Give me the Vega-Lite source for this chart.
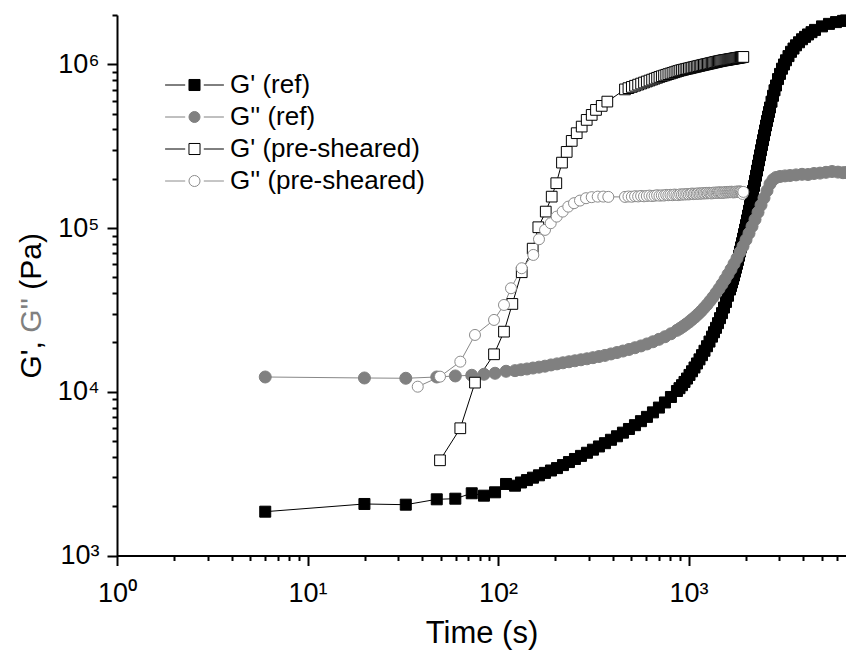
{
"$schema":"https://vega.github.io/schema/vega-lite/v6.json",
"width":729,"height":540.5,
"autosize":{"type":"none"},
"padding":{"left":117,"top":15,"right":0,"bottom":102.5},
"background":"white",
"config":{"view":{"stroke":null},"font":"Liberation Sans","axis":{"grid":false}},
"data":{"values":[
{"series":"G' (ref)","t":6.0,"G":1852},{"series":"G' (ref)","t":19.9,"G":2064},{"series":"G' (ref)","t":32.8,"G":2043},{"series":"G' (ref)","t":47.7,"G":2204},{"series":"G' (ref)","t":59.7,"G":2223},{"series":"G' (ref)","t":72.8,"G":2399},{"series":"G' (ref)","t":84.4,"G":2319},{"series":"G' (ref)","t":96.5,"G":2432},{"series":"G' (ref)","t":110.2,"G":2734},{"series":"G' (ref)","t":122.8,"G":2669},
{"series":"G' (ref)","t":132,"G":2792},{"series":"G' (ref)","t":141.9,"G":2888},{"series":"G' (ref)","t":152.6,"G":2987},{"series":"G' (ref)","t":164.1,"G":3089},{"series":"G' (ref)","t":176.4,"G":3196},{"series":"G' (ref)","t":189.7,"G":3305},{"series":"G' (ref)","t":204.0,"G":3419},{"series":"G' (ref)","t":219.3,"G":3566},{"series":"G' (ref)","t":235.8,"G":3721},{"series":"G' (ref)","t":253.5,"G":3886},{"series":"G' (ref)","t":272.6,"G":4059},{"series":"G' (ref)","t":293.1,"G":4241},{"series":"G' (ref)","t":315.1,"G":4429},{"series":"G' (ref)","t":338.8,"G":4634},{"series":"G' (ref)","t":364.3,"G":4853},{"series":"G' (ref)","t":391.7,"G":5091},{"series":"G' (ref)","t":421.2,"G":5348},{"series":"G' (ref)","t":452.8,"G":5626},{"series":"G' (ref)","t":486.9,"G":5926},{"series":"G' (ref)","t":523.5,"G":6252},{"series":"G' (ref)","t":562.9,"G":6613},{"series":"G' (ref)","t":605.2,"G":7025},{"series":"G' (ref)","t":650.7,"G":7485},{"series":"G' (ref)","t":699.6,"G":8007},{"series":"G' (ref)","t":752.3,"G":8603},{"series":"G' (ref)","t":808.8,"G":9293},{"series":"G' (ref)","t":869.7,"G":10110},
{"series":"G' (ref)","t":897.0,"G":10520},{"series":"G' (ref)","t":924.6,"G":10970},{"series":"G' (ref)","t":952.8,"G":11480},{"series":"G' (ref)","t":982.0,"G":12040},{"series":"G' (ref)","t":1012.2,"G":12670},{"series":"G' (ref)","t":1043.2,"G":13340},{"series":"G' (ref)","t":1075.2,"G":14070},{"series":"G' (ref)","t":1108.1,"G":14890},{"series":"G' (ref)","t":1142.1,"G":15770},{"series":"G' (ref)","t":1177.1,"G":16730},{"series":"G' (ref)","t":1213.2,"G":17800},{"series":"G' (ref)","t":1250.4,"G":18970},{"series":"G' (ref)","t":1288.7,"G":20260},{"series":"G' (ref)","t":1328.2,"G":21710},
{"series":"G' (ref)","t":1361,"G":23090},{"series":"G' (ref)","t":1394.3,"G":24570},{"series":"G' (ref)","t":1428.4,"G":26240},{"series":"G' (ref)","t":1463.4,"G":28160},{"series":"G' (ref)","t":1499.2,"G":30210},{"series":"G' (ref)","t":1535.9,"G":32680},{"series":"G' (ref)","t":1573.5,"G":35370},{"series":"G' (ref)","t":1612.0,"G":38590},{"series":"G' (ref)","t":1651.4,"G":42110},
{"series":"G' (ref)","t":1671.5,"G":44230},{"series":"G' (ref)","t":1691.8,"G":46460},{"series":"G' (ref)","t":1712.4,"G":48800},{"series":"G' (ref)","t":1733.3,"G":51260},{"series":"G' (ref)","t":1754.3,"G":54160},{"series":"G' (ref)","t":1775.7,"G":57210},{"series":"G' (ref)","t":1797.3,"G":60430},{"series":"G' (ref)","t":1819.1,"G":63840},{"series":"G' (ref)","t":1841.3,"G":67720},{"series":"G' (ref)","t":1863.6,"G":71840},{"series":"G' (ref)","t":1886.3,"G":76210},{"series":"G' (ref)","t":1909.2,"G":80840},{"series":"G' (ref)","t":1932.4,"G":86120},{"series":"G' (ref)","t":1955.9,"G":91790},{"series":"G' (ref)","t":1979.7,"G":97780},{"series":"G' (ref)","t":2003.8,"G":104200},{"series":"G' (ref)","t":2028.2,"G":111400},{"series":"G' (ref)","t":2052.8,"G":119200},{"series":"G' (ref)","t":2077.8,"G":127600},{"series":"G' (ref)","t":2103.0,"G":136500},{"series":"G' (ref)","t":2128.6,"G":146400},{"series":"G' (ref)","t":2154.4,"G":157100},{"series":"G' (ref)","t":2180.6,"G":168500},{"series":"G' (ref)","t":2207.1,"G":180800},{"series":"G' (ref)","t":2234.0,"G":194200},{"series":"G' (ref)","t":2261.1,"G":208700},{"series":"G' (ref)","t":2288.6,"G":224200},{"series":"G' (ref)","t":2316.4,"G":240900},{"series":"G' (ref)","t":2344.6,"G":258900},{"series":"G' (ref)","t":2373.1,"G":278000},{"series":"G' (ref)","t":2402.0,"G":298700},{"series":"G' (ref)","t":2431.2,"G":320900},{"series":"G' (ref)","t":2460.7,"G":343900},{"series":"G' (ref)","t":2490.6,"G":368300},{"series":"G' (ref)","t":2520.9,"G":394600},{"series":"G' (ref)","t":2551.6,"G":422800},{"series":"G' (ref)","t":2582.6,"G":450400},{"series":"G' (ref)","t":2614.0,"G":479900},{"series":"G' (ref)","t":2645.8,"G":511100},{"series":"G' (ref)","t":2677.9,"G":544500},
{"series":"G' (ref)","t":2727.0,"G":590900},{"series":"G' (ref)","t":2776.8,"G":642200},{"series":"G' (ref)","t":2827.6,"G":693800},{"series":"G' (ref)","t":2879.4,"G":742200},{"series":"G' (ref)","t":2949.8,"G":812200},{"series":"G' (ref)","t":3021.8,"G":873700},{"series":"G' (ref)","t":3095.6,"G":940000},{"series":"G' (ref)","t":3171.2,"G":997200},{"series":"G' (ref)","t":3248.7,"G":1057800},{"series":"G' (ref)","t":3348.3,"G":1122000},{"series":"G' (ref)","t":3451.9,"G":1192000},{"series":"G' (ref)","t":3557,"G":1248000},{"series":"G' (ref)","t":3666.3,"G":1306000},{"series":"G' (ref)","t":3802,"G":1363000},{"series":"G' (ref)","t":3943.1,"G":1422000},{"series":"G' (ref)","t":4089,"G":1471000},{"series":"G' (ref)","t":4239.8,"G":1521000},{"series":"G' (ref)","t":4423,"G":1571000},{"series":"G' (ref)","t":4613.5,"G":1622000},{"series":"G' (ref)","t":5020.2,"G":1704000},{"series":"G' (ref)","t":5462.3,"G":1765000},{"series":"G' (ref)","t":5945.0,"G":1810000},{"series":"G' (ref)","t":6470.4,"G":1841000},{"series":"G' (ref)","t":6710,"G":1852000},

{"series":"G'' (ref)","t":6.0,"G":12310},{"series":"G'' (ref)","t":19.9,"G":12140},{"series":"G'' (ref)","t":32.8,"G":12090},{"series":"G'' (ref)","t":47.7,"G":12310},{"series":"G'' (ref)","t":59.7,"G":12490},{"series":"G'' (ref)","t":72.8,"G":12610},{"series":"G'' (ref)","t":84.4,"G":12790},{"series":"G'' (ref)","t":96.5,"G":12970},{"series":"G'' (ref)","t":110.2,"G":13340},{"series":"G'' (ref)","t":122.8,"G":13460},
{"series":"G'' (ref)","t":132,"G":13630},{"series":"G'' (ref)","t":141.9,"G":13780},{"series":"G'' (ref)","t":152.6,"G":13960},{"series":"G'' (ref)","t":164.1,"G":14140},{"series":"G'' (ref)","t":176.4,"G":14330},{"series":"G'' (ref)","t":189.7,"G":14580},{"series":"G'' (ref)","t":204.0,"G":14800},{"series":"G'' (ref)","t":219.3,"G":15030},{"series":"G'' (ref)","t":235.8,"G":15250},{"series":"G'' (ref)","t":253.5,"G":15460},{"series":"G'' (ref)","t":272.6,"G":15680},{"series":"G'' (ref)","t":293.1,"G":15900},{"series":"G'' (ref)","t":315.1,"G":16150},{"series":"G'' (ref)","t":338.8,"G":16410},{"series":"G'' (ref)","t":364.3,"G":16680},{"series":"G'' (ref)","t":391.7,"G":17020},{"series":"G'' (ref)","t":421.2,"G":17360},{"series":"G'' (ref)","t":452.8,"G":17730},{"series":"G'' (ref)","t":486.9,"G":18130},{"series":"G'' (ref)","t":523.5,"G":18570},{"series":"G'' (ref)","t":562.9,"G":19050},{"series":"G'' (ref)","t":605.2,"G":19590},{"series":"G'' (ref)","t":650.7,"G":20200},{"series":"G'' (ref)","t":699.6,"G":20900},{"series":"G'' (ref)","t":752.3,"G":21680},{"series":"G'' (ref)","t":808.8,"G":22610},{"series":"G'' (ref)","t":869.7,"G":23720},
{"series":"G'' (ref)","t":902.4,"G":24360},{"series":"G'' (ref)","t":935.7,"G":25060},{"series":"G'' (ref)","t":970.2,"G":25840},{"series":"G'' (ref)","t":1006.1,"G":26650},{"series":"G'' (ref)","t":1043.2,"G":27610},{"series":"G'' (ref)","t":1081.7,"G":28600},{"series":"G'' (ref)","t":1121.6,"G":29750},{"series":"G'' (ref)","t":1163.0,"G":30980},{"series":"G'' (ref)","t":1205.9,"G":32450},{"series":"G'' (ref)","t":1250.4,"G":34000},{"series":"G'' (ref)","t":1296.5,"G":35820},{"series":"G'' (ref)","t":1344.4,"G":37790},{"series":"G'' (ref)","t":1394.3,"G":40090},{"series":"G'' (ref)","t":1445.8,"G":42520},{"series":"G'' (ref)","t":1499.2,"G":45370},{"series":"G'' (ref)","t":1554.5,"G":48450},{"series":"G'' (ref)","t":1612.0,"G":52070},{"series":"G'' (ref)","t":1671.5,"G":55940},{"series":"G'' (ref)","t":1733.3,"G":60430},{"series":"G'' (ref)","t":1797.3,"G":65380},{"series":"G'' (ref)","t":1863.6,"G":71140},{"series":"G'' (ref)","t":1932.4,"G":77400},{"series":"G'' (ref)","t":2003.8,"G":84710},{"series":"G'' (ref)","t":2077.8,"G":92810},{"series":"G'' (ref)","t":2154.4,"G":102300},{"series":"G'' (ref)","t":2234.0,"G":112700},{"series":"G'' (ref)","t":2316.4,"G":124700},{"series":"G'' (ref)","t":2402.0,"G":138000},{"series":"G'' (ref)","t":2490.6,"G":152700},{"series":"G'' (ref)","t":2582.6,"G":169000},
{"series":"G'' (ref)","t":2677.9,"G":186000},{"series":"G'' (ref)","t":2776.8,"G":197300},{"series":"G'' (ref)","t":2879.4,"G":203500},{"series":"G'' (ref)","t":3021.8,"G":206400},{"series":"G'' (ref)","t":3210.3,"G":208100},{"series":"G'' (ref)","t":3410.3,"G":209300},{"series":"G'' (ref)","t":3666.3,"G":211100},{"series":"G'' (ref)","t":3943.1,"G":212800},{"series":"G'' (ref)","t":4239.8,"G":212300},{"series":"G'' (ref)","t":4558.1,"G":215300},{"series":"G'' (ref)","t":4900.6,"G":216500},{"series":"G'' (ref)","t":5268.0,"G":218900},{"series":"G'' (ref)","t":5664.0,"G":221400},{"series":"G'' (ref)","t":6090.0,"G":219500},{"series":"G'' (ref)","t":6470.4,"G":217700},{"series":"G'' (ref)","t":6710,"G":218300},

{"series":"G' (pre-sheared)","t":49.6,"G":3815},{"series":"G' (pre-sheared)","t":63.4,"G":5985},{"series":"G' (pre-sheared)","t":75.7,"G":11370},{"series":"G' (pre-sheared)","t":95.3,"G":16940},{"series":"G' (pre-sheared)","t":107.5,"G":23290},{"series":"G' (pre-sheared)","t":118.9,"G":34380},{"series":"G' (pre-sheared)","t":133.2,"G":53710},{"series":"G' (pre-sheared)","t":152.1,"G":74830},{"series":"G' (pre-sheared)","t":162.8,"G":101100},{"series":"G' (pre-sheared)","t":178.1,"G":126000},{"series":"G' (pre-sheared)","t":191.4,"G":155500},{"series":"G' (pre-sheared)","t":202.3,"G":187800},{"series":"G' (pre-sheared)","t":216.7,"G":250900},{"series":"G' (pre-sheared)","t":229.4,"G":291700},{"series":"G' (pre-sheared)","t":243.8,"G":340500},{"series":"G' (pre-sheared)","t":258.9,"G":379500},{"series":"G' (pre-sheared)","t":275.0,"G":416400},{"series":"G' (pre-sheared)","t":292.2,"G":457500},{"series":"G' (pre-sheared)","t":310.4,"G":490800},{"series":"G' (pre-sheared)","t":326.9,"G":526600},{"series":"G' (pre-sheared)","t":350.3,"G":557100},{"series":"G' (pre-sheared)","t":374.8,"G":591700},
{"series":"G' (pre-sheared)","t":464,"G":702500},{"series":"G' (pre-sheared)","t":484,"G":715100},{"series":"G' (pre-sheared)","t":504,"G":727400},{"series":"G' (pre-sheared)","t":524,"G":739400},{"series":"G' (pre-sheared)","t":544,"G":751100},{"series":"G' (pre-sheared)","t":564,"G":762600},{"series":"G' (pre-sheared)","t":584,"G":773800},{"series":"G' (pre-sheared)","t":604,"G":784900},{"series":"G' (pre-sheared)","t":624,"G":795600},{"series":"G' (pre-sheared)","t":644,"G":806300},{"series":"G' (pre-sheared)","t":664,"G":816800},{"series":"G' (pre-sheared)","t":684,"G":826900},{"series":"G' (pre-sheared)","t":704,"G":837200},{"series":"G' (pre-sheared)","t":724,"G":845900},{"series":"G' (pre-sheared)","t":744,"G":854300},{"series":"G' (pre-sheared)","t":764,"G":862700},{"series":"G' (pre-sheared)","t":784,"G":870800},{"series":"G' (pre-sheared)","t":804,"G":878800},{"series":"G' (pre-sheared)","t":824,"G":886700},{"series":"G' (pre-sheared)","t":844,"G":894600},{"series":"G' (pre-sheared)","t":864,"G":902300},{"series":"G' (pre-sheared)","t":884,"G":909700},{"series":"G' (pre-sheared)","t":904,"G":917300},{"series":"G' (pre-sheared)","t":924,"G":922900},{"series":"G' (pre-sheared)","t":944,"G":928400},{"series":"G' (pre-sheared)","t":964,"G":933900},{"series":"G' (pre-sheared)","t":984,"G":939300},{"series":"G' (pre-sheared)","t":1004,"G":944500},{"series":"G' (pre-sheared)","t":1024,"G":949700},{"series":"G' (pre-sheared)","t":1044,"G":954800},{"series":"G' (pre-sheared)","t":1064,"G":959900},{"series":"G' (pre-sheared)","t":1084,"G":964700},{"series":"G' (pre-sheared)","t":1104,"G":969600},{"series":"G' (pre-sheared)","t":1124,"G":974600},{"series":"G' (pre-sheared)","t":1144,"G":979300},{"series":"G' (pre-sheared)","t":1164,"G":984000},{"series":"G' (pre-sheared)","t":1184,"G":988600},{"series":"G' (pre-sheared)","t":1204,"G":993100},{"series":"G' (pre-sheared)","t":1224,"G":997500},{"series":"G' (pre-sheared)","t":1244,"G":1001800},{"series":"G' (pre-sheared)","t":1264,"G":1006200},{"series":"G' (pre-sheared)","t":1284,"G":1010400},{"series":"G' (pre-sheared)","t":1304,"G":1014600},{"series":"G' (pre-sheared)","t":1324,"G":1018800},{"series":"G' (pre-sheared)","t":1344,"G":1022800},{"series":"G' (pre-sheared)","t":1364,"G":1027100},{"series":"G' (pre-sheared)","t":1384,"G":1031100},{"series":"G' (pre-sheared)","t":1404,"G":1035100},{"series":"G' (pre-sheared)","t":1424,"G":1039000},{"series":"G' (pre-sheared)","t":1444,"G":1043000},{"series":"G' (pre-sheared)","t":1464,"G":1046900},{"series":"G' (pre-sheared)","t":1484,"G":1050500},{"series":"G' (pre-sheared)","t":1504,"G":1053200},{"series":"G' (pre-sheared)","t":1524,"G":1056100},{"series":"G' (pre-sheared)","t":1544,"G":1059000},{"series":"G' (pre-sheared)","t":1564,"G":1061700},{"series":"G' (pre-sheared)","t":1584,"G":1064400},{"series":"G' (pre-sheared)","t":1604,"G":1067100},{"series":"G' (pre-sheared)","t":1624,"G":1069800},{"series":"G' (pre-sheared)","t":1644,"G":1072500},{"series":"G' (pre-sheared)","t":1664,"G":1075200},{"series":"G' (pre-sheared)","t":1684,"G":1077700},{"series":"G' (pre-sheared)","t":1704,"G":1080400},{"series":"G' (pre-sheared)","t":1724,"G":1082900},{"series":"G' (pre-sheared)","t":1744,"G":1085400},{"series":"G' (pre-sheared)","t":1764,"G":1087900},{"series":"G' (pre-sheared)","t":1784,"G":1090400},{"series":"G' (pre-sheared)","t":1804,"G":1093000},{"series":"G' (pre-sheared)","t":1824,"G":1095500},{"series":"G' (pre-sheared)","t":1844,"G":1097700},{"series":"G' (pre-sheared)","t":1864,"G":1100300},{"series":"G' (pre-sheared)","t":1884,"G":1102600},{"series":"G' (pre-sheared)","t":1904,"G":1104900},{"series":"G' (pre-sheared)","t":1924,"G":1107400},{"series":"G' (pre-sheared)","t":1940,"G":1109200},

{"series":"G'' (pre-sheared)","t":37.9,"G":10740},{"series":"G'' (pre-sheared)","t":49.6,"G":12370},{"series":"G'' (pre-sheared)","t":63.4,"G":15270},{"series":"G'' (pre-sheared)","t":75.7,"G":22230},{"series":"G'' (pre-sheared)","t":95.3,"G":27460},{"series":"G'' (pre-sheared)","t":107.5,"G":33900},{"series":"G'' (pre-sheared)","t":117.0,"G":42880},{"series":"G'' (pre-sheared)","t":133.2,"G":56820},{"series":"G'' (pre-sheared)","t":153.2,"G":68490},{"series":"G'' (pre-sheared)","t":164.1,"G":85420},{"series":"G'' (pre-sheared)","t":176.5,"G":97400},{"series":"G'' (pre-sheared)","t":189.1,"G":107000},{"series":"G'' (pre-sheared)","t":203.3,"G":117400},{"series":"G'' (pre-sheared)","t":218.6,"G":126000},{"series":"G'' (pre-sheared)","t":233.9,"G":135100},{"series":"G'' (pre-sheared)","t":250.6,"G":141800},{"series":"G'' (pre-sheared)","t":269.4,"G":147100},{"series":"G'' (pre-sheared)","t":289.7,"G":152100},{"series":"G'' (pre-sheared)","t":310.4,"G":154300},{"series":"G'' (pre-sheared)","t":333.7,"G":155500},{"series":"G'' (pre-sheared)","t":357.1,"G":155600},{"series":"G'' (pre-sheared)","t":379.3,"G":155000},
{"series":"G'' (pre-sheared)","t":464,"G":154900},{"series":"G'' (pre-sheared)","t":484,"G":155800},{"series":"G'' (pre-sheared)","t":504,"G":155300},{"series":"G'' (pre-sheared)","t":524,"G":156400},{"series":"G'' (pre-sheared)","t":544,"G":155900},{"series":"G'' (pre-sheared)","t":564,"G":157000},{"series":"G'' (pre-sheared)","t":584,"G":156200},{"series":"G'' (pre-sheared)","t":604,"G":156900},{"series":"G'' (pre-sheared)","t":624,"G":157800},{"series":"G'' (pre-sheared)","t":644,"G":156800},{"series":"G'' (pre-sheared)","t":664,"G":157500},{"series":"G'' (pre-sheared)","t":684,"G":158600},{"series":"G'' (pre-sheared)","t":704,"G":157600},{"series":"G'' (pre-sheared)","t":724,"G":158400},{"series":"G'' (pre-sheared)","t":744,"G":157900},{"series":"G'' (pre-sheared)","t":764,"G":159300},{"series":"G'' (pre-sheared)","t":784,"G":158600},{"series":"G'' (pre-sheared)","t":804,"G":159500},{"series":"G'' (pre-sheared)","t":824,"G":158700},{"series":"G'' (pre-sheared)","t":844,"G":160100},{"series":"G'' (pre-sheared)","t":864,"G":159400},{"series":"G'' (pre-sheared)","t":884,"G":158900},{"series":"G'' (pre-sheared)","t":904,"G":160600},{"series":"G'' (pre-sheared)","t":924,"G":159800},{"series":"G'' (pre-sheared)","t":944,"G":160900},{"series":"G'' (pre-sheared)","t":964,"G":160200},{"series":"G'' (pre-sheared)","t":984,"G":161300},{"series":"G'' (pre-sheared)","t":1004,"G":160400},{"series":"G'' (pre-sheared)","t":1024,"G":161500},{"series":"G'' (pre-sheared)","t":1044,"G":162400},{"series":"G'' (pre-sheared)","t":1064,"G":161100},{"series":"G'' (pre-sheared)","t":1084,"G":162200},{"series":"G'' (pre-sheared)","t":1104,"G":161600},{"series":"G'' (pre-sheared)","t":1124,"G":162900},{"series":"G'' (pre-sheared)","t":1144,"G":161800},{"series":"G'' (pre-sheared)","t":1164,"G":163000},{"series":"G'' (pre-sheared)","t":1184,"G":162300},{"series":"G'' (pre-sheared)","t":1204,"G":163500},{"series":"G'' (pre-sheared)","t":1224,"G":162600},{"series":"G'' (pre-sheared)","t":1244,"G":163900},{"series":"G'' (pre-sheared)","t":1264,"G":162800},{"series":"G'' (pre-sheared)","t":1284,"G":164100},{"series":"G'' (pre-sheared)","t":1304,"G":163200},{"series":"G'' (pre-sheared)","t":1324,"G":162700},{"series":"G'' (pre-sheared)","t":1344,"G":164300},{"series":"G'' (pre-sheared)","t":1364,"G":163600},{"series":"G'' (pre-sheared)","t":1384,"G":164800},{"series":"G'' (pre-sheared)","t":1404,"G":163700},{"series":"G'' (pre-sheared)","t":1424,"G":165000},{"series":"G'' (pre-sheared)","t":1444,"G":164100},{"series":"G'' (pre-sheared)","t":1464,"G":165400},{"series":"G'' (pre-sheared)","t":1484,"G":164300},{"series":"G'' (pre-sheared)","t":1504,"G":163800},{"series":"G'' (pre-sheared)","t":1524,"G":165200},{"series":"G'' (pre-sheared)","t":1544,"G":164600},{"series":"G'' (pre-sheared)","t":1564,"G":165900},{"series":"G'' (pre-sheared)","t":1584,"G":164800},{"series":"G'' (pre-sheared)","t":1604,"G":166100},{"series":"G'' (pre-sheared)","t":1624,"G":165200},{"series":"G'' (pre-sheared)","t":1644,"G":166400},{"series":"G'' (pre-sheared)","t":1664,"G":165500},{"series":"G'' (pre-sheared)","t":1684,"G":166700},{"series":"G'' (pre-sheared)","t":1704,"G":165600},{"series":"G'' (pre-sheared)","t":1724,"G":164900},{"series":"G'' (pre-sheared)","t":1744,"G":166300},{"series":"G'' (pre-sheared)","t":1764,"G":165700},{"series":"G'' (pre-sheared)","t":1784,"G":167000},{"series":"G'' (pre-sheared)","t":1804,"G":165900},{"series":"G'' (pre-sheared)","t":1824,"G":167200},{"series":"G'' (pre-sheared)","t":1844,"G":166100},{"series":"G'' (pre-sheared)","t":1864,"G":167400},{"series":"G'' (pre-sheared)","t":1884,"G":166400},{"series":"G'' (pre-sheared)","t":1904,"G":165000},{"series":"G'' (pre-sheared)","t":1924,"G":161500},{"series":"G'' (pre-sheared)","t":1940,"G":166200}
]},
"encoding":{
 "x":{"field":"t","type":"quantitative",
  "scale":{"type":"log","domain":[1,6710],"nice":false},
  "axis":{
   "values":[1,2,3,4,5,6,7,8,9,10,20,30,40,50,60,70,80,90,100,200,300,400,500,600,700,800,900,1000,2000,3000,4000,5000,6000],
   "labelExpr":"abs(log(datum.value)/LN10-round(log(datum.value)/LN10))<0.001 ? '10' + ['⁰','¹','²','³','⁴','⁵','⁶'][round(log(datum.value)/LN10)] : ''",
   "tickSize":{"condition":{"test":"abs(log(datum.value)/LN10-round(log(datum.value)/LN10))<0.001","value":10},"value":5},
   "tickWidth":2,"tickColor":"black","domainColor":"black","domainWidth":2,
   "labelFont":"Liberation Sans","labelFontSize":27,"labelColor":"black","labelPadding":15,
   "labelFlush":false,"labelOverlap":false,"labelBound":false,"grid":false,
   "title":"Time (s)","titleFont":"Liberation Sans","titleFontSize":31,"titleFontWeight":"normal","titleColor":"black",
   "titleX":364.5,"titleY":87,"titleAlign":"center","titleBaseline":"alphabetic","titleAngle":0
  }}
},
"layer":[
 {"transform":[{"filter":"datum.series === \"G' (ref)\" || datum.series === \"G' (pre-sheared)\""}],
  "mark":{"type":"line","strokeWidth":1,"stroke":"#000000"},
  "encoding":{
   "y":{"field":"G","type":"quantitative","scale":{"type":"log","domain":[1000,2000000],"nice":false},
    "axis":{"orient":"left",
     "values":[1000,2000,3000,4000,5000,6000,7000,8000,9000,10000,20000,30000,40000,50000,60000,70000,80000,90000,100000,200000,300000,400000,500000,600000,700000,800000,900000,1000000,2000000],
     "labelExpr":"abs(log(datum.value)/LN10-round(log(datum.value)/LN10))<0.001 ? '10' + ['⁰','¹','²','³','⁴','⁵','⁶'][round(log(datum.value)/LN10)] : ''",
     "tickSize":{"condition":{"test":"abs(log(datum.value)/LN10-round(log(datum.value)/LN10))<0.001","value":10},"value":5},
     "tickWidth":2,"tickColor":"black","domainColor":"black","domainWidth":2,
     "labelFont":"Liberation Sans","labelFontSize":27,"labelColor":"black","labelPadding":8,
     "labelOverlap":false,"labelBound":false,"grid":false,
     "title":"G',","titleFont":"Liberation Sans","titleFontSize":30,"titleFontWeight":"normal","titleColor":"black",
     "titleX":-77,"titleY":363,"titleAngle":270,"titleAlign":"left","titleBaseline":"alphabetic"}},
   "detail":{"field":"series","type":"nominal"}
  }},
 {"transform":[{"filter":"datum.series === \"G'' (ref)\" || datum.series === \"G'' (pre-sheared)\""}],
  "mark":{"type":"line","strokeWidth":1,"stroke":"#888888"},
  "encoding":{
   "y":{"field":"G","type":"quantitative","scale":{"type":"log","domain":[1000,2000000],"nice":false},
    "axis":{"orient":"left","labels":false,"ticks":false,"domain":false,"grid":false,
     "title":"(Pa)","titleFont":"Liberation Sans","titleFontSize":30,"titleFontWeight":"normal","titleColor":"black",
     "titleX":-77,"titleY":274.2,"titleAngle":270,"titleAlign":"left","titleBaseline":"alphabetic"}},
   "detail":{"field":"series","type":"nominal"}
  }},
 {"transform":[{"filter":"datum.series === \"G' (ref)\""}],
  "mark":{"type":"point","shape":"square","filled":true,"fill":"#000000","stroke":"#000000","size":121,"opacity":1,"strokeWidth":1},
  "encoding":{
   "y":{"field":"G","type":"quantitative","scale":{"type":"log","domain":[1000,2000000],"nice":false},
    "axis":{"orient":"left","labels":false,"ticks":false,"domain":false,"grid":false,
     "title":"G''","titleFont":"Liberation Sans","titleFontSize":30,"titleFontWeight":"normal","titleColor":"#808080",
     "titleX":-77,"titleY":317.3,"titleAngle":270,"titleAlign":"left","titleBaseline":"alphabetic"}}
  }},
 {"transform":[{"filter":"datum.series === \"G'' (ref)\""}],
  "mark":{"type":"point","shape":"circle","filled":true,"fill":"#808080","stroke":"#808080","size":144,"opacity":1,"strokeWidth":1},
  "encoding":{
   "y":{"field":"G","type":"quantitative","scale":{"type":"log","domain":[1000,2000000],"nice":false},"axis":null}
  }},
 {"transform":[{"filter":"datum.series === \"G' (pre-sheared)\""}],
  "mark":{"type":"point","shape":"square","filled":true,"fill":"#ffffff","stroke":"#000000","size":115,"opacity":1,"strokeWidth":1},
  "encoding":{
   "y":{"field":"G","type":"quantitative","scale":{"type":"log","domain":[1000,2000000],"nice":false},"axis":null}
  }},
 {"transform":[{"filter":"datum.series === \"G'' (pre-sheared)\""}],
  "mark":{"type":"point","shape":"circle","filled":true,"fill":"#ffffff","stroke":"#8c8c8c","size":121,"opacity":1,"strokeWidth":1},
  "encoding":{
   "y":{"field":"G","type":"quantitative","scale":{"type":"log","domain":[1000,2000000],"nice":false},"axis":null}
  }},
 {"transform":[{"filter":"datum.t < 60"}],
  "mark":{"type":"point","filled":true,"opacity":0,"strokeWidth":1},
  "encoding":{
   "y":{"field":"G","type":"quantitative","scale":{"type":"log","domain":[1000,2000000],"nice":false},"axis":null},
   "shape":{"field":"series","type":"nominal",
    "scale":{"domain":["G' (ref)","G'' (ref)","G' (pre-sheared)","G'' (pre-sheared)"],
     "range":["M-4.9,0L-1.55,0M1.55,0L4.9,0M-0.92,-0.92L0.92,-0.92L0.92,0.92L-0.92,0.92Z","M-4.9,0L-1.55,0M1.55,0L4.9,0M0.92,0L0.85,0.352L0.651,0.651L0.352,0.85L0,0.92L-0.352,0.85L-0.651,0.651L-0.85,0.352L-0.92,0L-0.85,-0.352L-0.651,-0.651L-0.352,-0.85L0,-0.92L0.352,-0.85L0.651,-0.651L0.85,-0.352Z","M-4.9,0L-1.55,0M1.55,0L4.9,0M-0.92,-0.92L0.92,-0.92L0.92,0.92L-0.92,0.92Z","M-4.9,0L-1.55,0M1.55,0L4.9,0M0.92,0L0.85,0.352L0.651,0.651L0.352,0.85L0,0.92L-0.352,0.85L-0.651,0.651L-0.85,0.352L-0.92,0L-0.85,-0.352L-0.651,-0.651L-0.352,-0.85L0,-0.92L0.352,-0.85L0.651,-0.651L0.85,-0.352Z"]},
    "legend":{"orient":"none","legendX":64.5,"legendY":57,"title":null,"padding":0,
     "labelFont":"Liberation Sans","labelFontSize":26,"labelColor":"black","labelLimit":400,"labelOffset":22.5,
     "symbolSize":144,"symbolStrokeWidth":1,"symbolOpacity":1,"rowPadding":6}},
   "fill":{"field":"series","type":"nominal",
    "scale":{"domain":["G' (ref)","G'' (ref)","G' (pre-sheared)","G'' (pre-sheared)"],"range":["#000000","#808080","#ffffff","#ffffff"]}},
   "stroke":{"field":"series","type":"nominal",
    "scale":{"domain":["G' (ref)","G'' (ref)","G' (pre-sheared)","G'' (pre-sheared)"],"range":["#000000","#808080","#000000","#8c8c8c"]}}
  }}
],
"resolve":{"axis":{"y":"independent"}}
}
